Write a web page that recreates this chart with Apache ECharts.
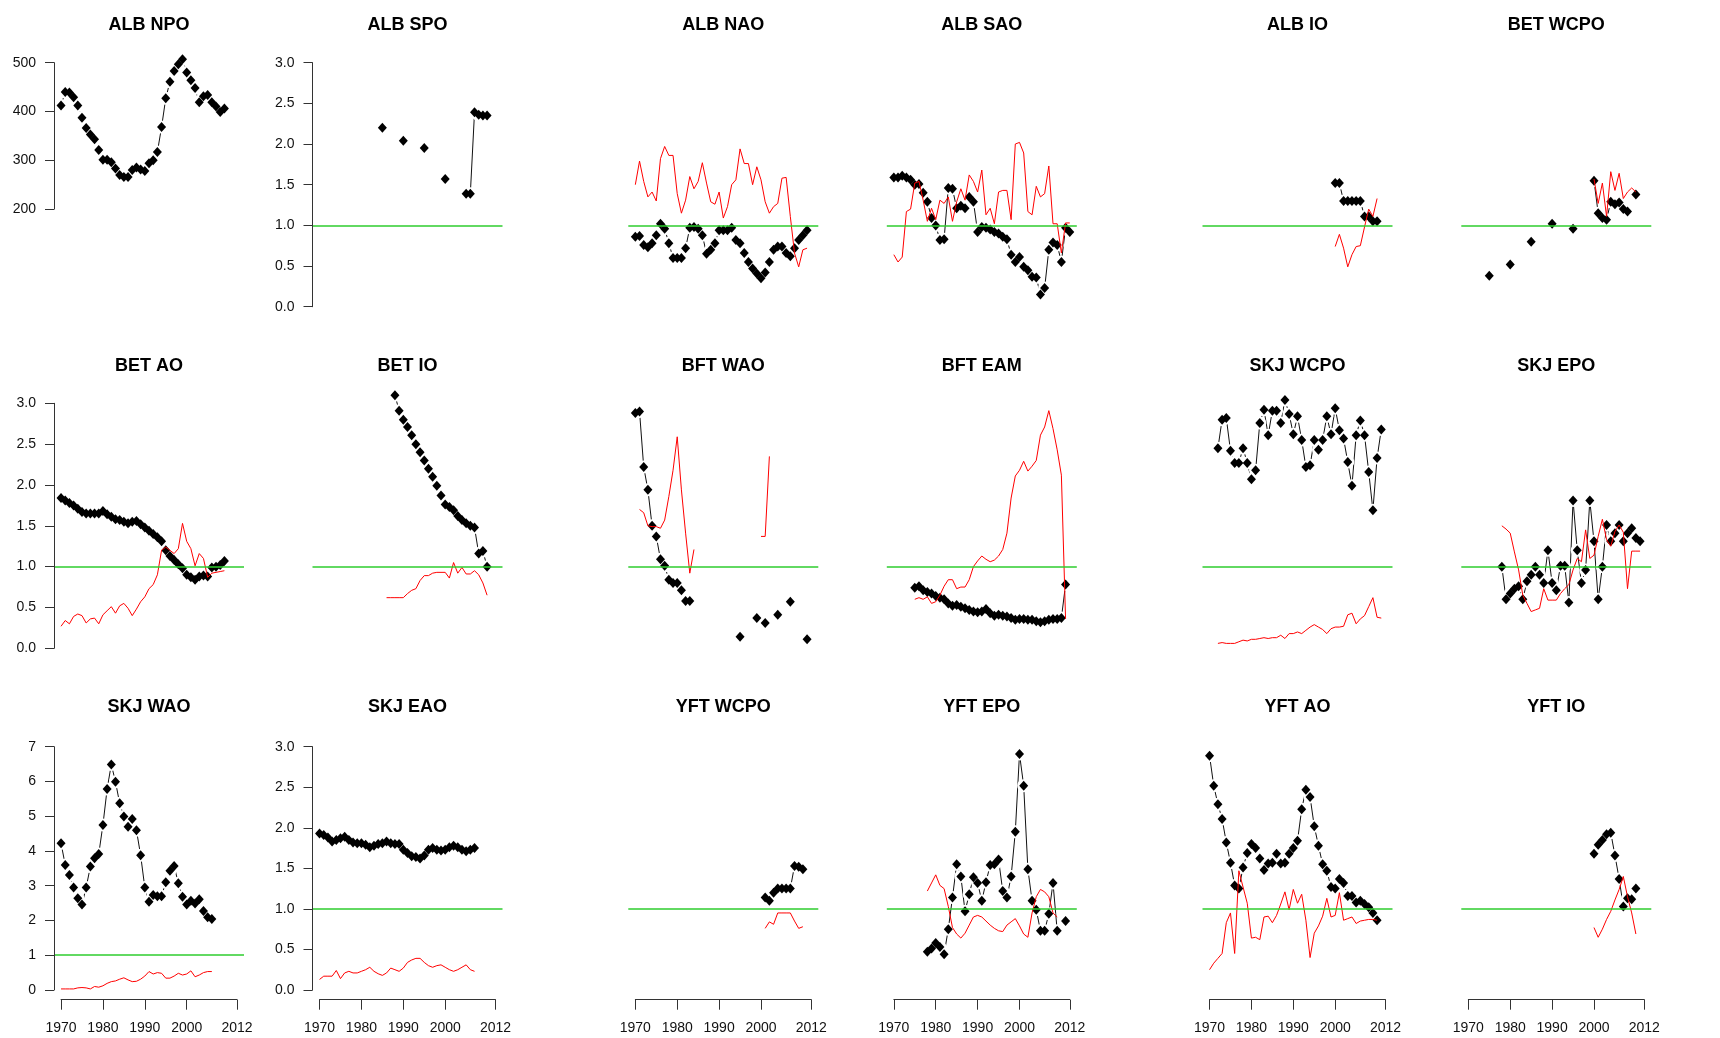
<!DOCTYPE html>
<html>
<head>
<meta charset="utf-8">
<script src="https://cdn.jsdelivr.net/npm/echarts@6/dist/echarts.min.js"></script>
<style>
html, body { margin: 0; padding: 0; background: #fff; }
#chart-container { width: 1720px; height: 1038px; }
</style>
</head>
<body>
<div id="chart-container"></div>
<script>
// panel titles, left to right, top to bottom
var panelTitles = ['ALB NPO', 'ALB SPO', 'ALB NAO', 'ALB SAO', 'ALB IO', 'BET WCPO',
                   'BET AO', 'BET IO', 'BFT WAO', 'BFT EAM', 'SKJ WCPO', 'SKJ EPO',
                   'SKJ WAO', 'SKJ EAO', 'YFT WCPO', 'YFT EPO', 'YFT AO', 'YFT IO'];

// x axis tick labels (bottom row)
var yearTicks = [1970, 1980, 1990, 2000, 2012];

// first year of each black (diamond) and red series
var blackFrom = [1970, 1985, 1970, 1970, 2000, 1975, 1970, 1988, 1970, 1975, 1972, 1978, 1970, 1970, 2001, 1978, 1970, 2000];
var redFrom   = [null, null, 1970, 1970, 2000, 2000, 1970, 1986, 1971, 1975, 1972, 1978, 1970, 1970, 2001, 1978, 1970, 2000];

// black series (one value per year, null = missing)
var albNpoB = [412, 440, 439, 429, 412, 387, 366, 353, 343, 321, 301, 301, 296, 283, 270, 266, 266, 280, 285, 281,
               278, 294, 300, 317, 368, 427, 461, 483, 497, 507, 480, 464, 448, 419, 431, 434, 419, 410, 399, 406];
var albSpoB = [2.20, null, null, null, null, 2.04, null, null, null, null, 1.95, null, null, null, null,
               1.57, null, null, null, null, 1.39, 1.39, 2.39, 2.36, 2.35, 2.35];
var albNaoB = [0.86, 0.87, 0.76, 0.73, 0.78, 0.88, 1.02, 0.96, 0.78, 0.60, 0.60, 0.60, 0.72, 0.97, 0.98, 0.96, 0.88, 0.65, 0.70, 0.78,
               0.94, 0.94, 0.94, 0.97, 0.82, 0.78, 0.66, 0.55, 0.47, 0.41, 0.35, 0.42, 0.55, 0.70, 0.74, 0.74, 0.66, 0.62, 0.72, 0.82,
               0.88, 0.94];
var albSaoB = [1.59, 1.59, 1.61, 1.59, 1.56, 1.50, 1.51, 1.40, 1.29, 1.09, 1.00, 0.82, 0.83, 1.46, 1.45, 1.21, 1.24, 1.21, 1.35, 1.29,
               0.92, 0.98, 0.97, 0.95, 0.92, 0.90, 0.86, 0.83, 0.64, 0.55, 0.61, 0.49, 0.45, 0.37, 0.36, 0.15, 0.23, 0.70, 0.79, 0.76,
               0.55, 0.97, 0.92];
var albIoB = [1.52, 1.52, 1.30, 1.30, 1.30, 1.30, 1.30, 1.11, 1.11, 1.05, 1.05];
var betWcpoB = [0.38, null, null, null, null, 0.52, null, null, null, null, 0.80, null, null, null, null,
                1.02, null, null, null, null, 0.96, null, null, null, null,
                1.55, 1.15, 1.09, 1.07, 1.29, 1.26, 1.28, 1.20, 1.17, null, 1.38];
var betAoB = [1.84, 1.81, 1.78, 1.75, 1.71, 1.67, 1.65, 1.65, 1.65, 1.65, 1.68, 1.64, 1.61, 1.58, 1.57, 1.55, 1.53, 1.55, 1.56, 1.52,
              1.48, 1.44, 1.40, 1.36, 1.31, 1.20, 1.13, 1.08, 1.03, 0.98, 0.90, 0.87, 0.84, 0.88, 0.89, 0.88, 0.99, 1.00, 1.02, 1.07];
var betIoB = [3.10, 2.91, 2.80, 2.71, 2.61, 2.50, 2.40, 2.30, 2.20, 2.10, 1.99, 1.87, 1.76, 1.73, 1.69, 1.62, 1.57, 1.53, 1.50, 1.48,
              1.16, 1.19, 1.00];
var bftWaoB = [2.88, 2.90, 2.22, 1.94, 1.50, 1.37, 1.09, 1.01, 0.84, 0.80, 0.80, 0.71, 0.58, 0.58,
               null, null, null, null, null, null, null, null, null, null, null,
               0.14, null, null, null, 0.37, null, 0.31, null, null, 0.41, null, null, 0.57, null, null, null, 0.11];
var bftEamB = [0.74, 0.76, 0.71, 0.69, 0.67, 0.64, 0.62, 0.60, 0.55, 0.52, 0.53, 0.51, 0.49, 0.47, 0.45, 0.44, 0.45, 0.48, 0.43, 0.40,
               0.41, 0.40, 0.39, 0.37, 0.35, 0.36, 0.36, 0.35, 0.35, 0.33, 0.32, 0.33, 0.35, 0.36, 0.36, 0.37, 0.78];
var skjWcpoB = [2.45, 2.80, 2.82, 2.42, 2.27, 2.27, 2.45, 2.27, 2.07, 2.18, 2.76, 2.92, 2.61, 2.91, 2.91, 2.76, 3.04, 2.87, 2.62, 2.84,
                2.55, 2.22, 2.24, 2.55, 2.43, 2.55, 2.84, 2.62, 2.94, 2.67, 2.57, 2.28, 1.99, 2.61, 2.79, 2.61, 2.16, 1.69, 2.33, 2.68];
var skjEpoB = [1.00, 0.60, 0.67, 0.73, 0.76, 0.60, 0.82, 0.90, 1.00, 0.90, 0.80, 1.20, 0.80, 0.71, 1.01, 1.01, 0.56, 1.81, 1.20, 0.80,
               0.96, 1.81, 1.31, 0.60, 1.00, 1.51, 1.31, 1.41, 1.51, 1.31, 1.41, 1.47, 1.35, 1.31];
var skjWaoB = [4.22, 3.60, 3.31, 2.95, 2.64, 2.46, 2.95, 3.55, 3.79, 3.91, 4.75, 5.78, 6.49, 5.99, 5.37, 4.99, 4.70, 4.92, 4.60, 3.88,
               2.95, 2.54, 2.73, 2.70, 2.70, 3.10, 3.43, 3.57, 3.07, 2.68, 2.46, 2.57, 2.49, 2.61, 2.27, 2.09, 2.04];
var skjEaoB = [1.93, 1.91, 1.88, 1.83, 1.85, 1.87, 1.89, 1.85, 1.82, 1.81, 1.81, 1.79, 1.76, 1.78, 1.80, 1.81, 1.83, 1.81, 1.80, 1.80,
               1.73, 1.69, 1.65, 1.64, 1.62, 1.66, 1.73, 1.75, 1.73, 1.72, 1.73, 1.76, 1.78, 1.76, 1.73, 1.71, 1.73, 1.75];
var yftWcpoB = [1.14, 1.10, 1.20, 1.25, 1.25, 1.25, 1.25, 1.53, 1.52, 1.49];
var yftEpoB = [0.47, 0.51, 0.58, 0.53, 0.44, 0.75, 1.14, 1.55, 1.40, 0.97, 1.18, 1.39, 1.32, 1.10, 1.33, 1.54, 1.55, 1.61, 1.22, 1.14,
               1.40, 1.95, 2.91, 2.52, 1.49, 1.10, 0.99, 0.73, 0.73, 0.94, 1.32, 0.73, null, 0.85];
var yftAoB = [2.89, 2.52, 2.29, 2.11, 1.82, 1.57, 1.29, 1.25, 1.51, 1.69, 1.80, 1.75, 1.62, 1.48, 1.56, 1.57, 1.68, 1.56, 1.57, 1.68,
              1.75, 1.84, 2.23, 2.47, 2.38, 2.02, 1.78, 1.55, 1.47, 1.27, 1.25, 1.37, 1.32, 1.16, 1.16, 1.08, 1.10, 1.06, 1.02, 0.95,
              0.86];
var yftIoB = [1.68, 1.79, 1.85, 1.92, 1.94, 1.66, 1.37, 1.03, 1.13, 1.12, 1.25];

// red series
var albNaoR = [1.50, 1.79, 1.54, 1.35, 1.41, 1.30, 1.82, 1.97, 1.86, 1.86, 1.39, 1.15, 1.31, 1.60, 1.45, 1.54, 1.77, 1.52, 1.29, 1.26,
               1.41, 1.09, 1.23, 1.50, 1.56, 1.94, 1.76, 1.76, 1.50, 1.72, 1.56, 1.29, 1.15, 1.23, 1.27, 1.58, 1.59, 1.11, 0.66, 0.49,
               0.70, 0.72];
var albSaoR = [0.64, 0.55, 0.61, 1.17, 1.20, 1.52, 1.54, 1.31, 1.05, 1.21, 1.07, 1.31, 1.27, 1.35, 1.05, 1.29, 1.45, 1.31, 1.62, 1.54,
               1.41, 1.68, 1.13, 1.21, 1.02, 1.41, 1.43, 1.43, 1.07, 2.00, 2.02, 1.89, 1.17, 1.13, 1.48, 1.35, 1.39, 1.73, 1.02, 1.02,
               0.66, 1.03, 1.03];
var albIoR = [0.74, 0.89, 0.72, 0.49, 0.64, 0.74, 0.75, 0.98, 1.20, 1.11, 1.33];
var betWcpoR = [1.57, 1.27, 1.52, 1.11, 1.66, 1.43, 1.64, 1.33, 1.41, 1.46, 1.41];
var betAoR = [0.27, 0.34, 0.30, 0.39, 0.42, 0.40, 0.31, 0.36, 0.37, 0.30, 0.41, 0.46, 0.51, 0.43, 0.52, 0.55, 0.49, 0.40, 0.48, 0.57,
              0.63, 0.73, 0.78, 0.90, 1.20, 1.24, 1.20, 1.16, 1.22, 1.53, 1.31, 1.22, 1.01, 1.16, 1.10, 0.87, 0.92, 0.93, 0.94, 0.95];
var betIoR = [0.62, 0.62, 0.62, 0.62, 0.62, 0.67, 0.71, 0.73, 0.83, 0.89, 0.89, 0.92, 0.93, 0.93, 0.93, 0.86, 1.05, 0.92, 0.99, 0.91,
              0.91, 0.95, 0.90, 0.80, 0.65];
var bftWaoR = [1.70, 1.66, 1.50, 1.49, 1.49, 1.47, 1.57, 1.86, 2.18, 2.59, 1.94, 1.41, 0.92, 1.21,
               null, null, null, null, null, null, null, null, null, null, null, null, null, null, null,
               1.37, 1.37, 2.35];
var bftEamR = [0.60, 0.62, 0.60, 0.63, 0.55, 0.57, 0.65, 0.76, 0.84, 0.84, 0.73, 0.75, 0.75, 0.84, 1.00, 1.07, 1.13, 1.09, 1.06, 1.08,
               1.13, 1.21, 1.41, 1.84, 2.11, 2.18, 2.29, 2.17, 2.23, 2.30, 2.61, 2.71, 2.91, 2.69, 2.43, 2.12, 0.36];
var skjWcpoR = [0.06, 0.07, 0.06, 0.06, 0.06, 0.08, 0.10, 0.09, 0.11, 0.11, 0.12, 0.13, 0.12, 0.13, 0.13, 0.16, 0.12, 0.18, 0.18, 0.20,
                0.18, 0.22, 0.26, 0.29, 0.26, 0.23, 0.18, 0.24, 0.26, 0.26, 0.27, 0.41, 0.43, 0.30, 0.36, 0.40, 0.51, 0.62, 0.38, 0.37];
var skjEpoR = [1.50, 1.46, 1.41, 1.18, 0.96, 0.65, 0.55, 0.45, 0.47, 0.49, 0.73, 0.59, 0.59, 0.59, 0.67, 0.73, 0.78, 0.96, 1.10, 1.06,
               1.45, 1.10, 1.14, 1.37, 1.58, 1.33, 1.25, 1.43, 1.51, 1.42, 0.73, 1.19, 1.19, 1.19];
var skjWaoR = [0.03, 0.03, 0.03, 0.03, 0.06, 0.07, 0.06, 0.03, 0.10, 0.08, 0.12, 0.19, 0.24, 0.26, 0.31, 0.35, 0.29, 0.24, 0.25, 0.31,
               0.40, 0.53, 0.46, 0.50, 0.48, 0.34, 0.34, 0.40, 0.48, 0.43, 0.46, 0.55, 0.38, 0.43, 0.50, 0.53, 0.53];
var skjEaoR = [0.13, 0.17, 0.17, 0.17, 0.24, 0.14, 0.21, 0.23, 0.21, 0.21, 0.23, 0.25, 0.28, 0.23, 0.20, 0.18, 0.21, 0.27, 0.25, 0.23,
               0.27, 0.34, 0.37, 0.39, 0.39, 0.34, 0.30, 0.28, 0.30, 0.31, 0.28, 0.25, 0.23, 0.25, 0.28, 0.31, 0.25, 0.23];
var yftWcpoR = [0.76, 0.84, 0.81, 0.95, 0.95, 0.95, 0.95, 0.85, 0.76, 0.78];
var yftEpoR = [1.22, 1.32, 1.42, 1.29, 1.25, 1.03, 0.77, 0.69, 0.64, 0.70, 0.80, 0.90, 0.92, 0.90, 0.85, 0.80, 0.76, 0.73, 0.72, 0.80,
               0.84, 0.88, 0.79, 0.69, 0.65, 0.95, 1.15, 1.24, 1.21, 1.15, 0.95, 0.90];
var yftAoR = [0.25, 0.33, 0.39, 0.45, 0.83, 0.95, 0.45, 1.47, 1.27, 1.07, 0.64, 0.65, 0.62, 0.90, 0.91, 0.83, 0.92, 1.06, 1.21, 0.99,
              1.24, 1.07, 1.18, 0.86, 0.40, 0.70, 0.79, 0.91, 1.13, 0.90, 0.92, 1.20, 0.86, 0.88, 0.90, 0.82, 0.85, 0.86, 0.87, 0.87,
              0.86];
var yftIoR = [0.77, 0.65, 0.75, 0.87, 0.97, 1.11, 1.24, 1.40, 1.15, 0.95, 0.69];

var blackSeries = [albNpoB, albSpoB, albNaoB, albSaoB, albIoB, betWcpoB, betAoB, betIoB, bftWaoB, bftEamB,
                   skjWcpoB, skjEpoB, skjWaoB, skjEaoB, yftWcpoB, yftEpoB, yftAoB, yftIoB];
var redSeries = [null, null, albNaoR, albSaoR, albIoR, betWcpoR, betAoR, betIoR, bftWaoR, bftEamR,
                 skjWcpoR, skjEpoR, skjWaoR, skjEaoR, yftWcpoR, yftEpoR, yftAoR, yftIoR];

// y range of each panel (ylim) and which panels draw a y axis: [min, max, step]
var yLimits = { 0: [0, 500], 12: [0, 7] };
var yAxisTicks = { 0: [200, 500, 100], 1: [0, 3, 0.5], 6: [0, 3, 0.5], 12: [0, 7, 1], 13: [0, 3, 0.5] };

// layout (pixels)
var FONT = 'Liberation Sans, Arial, sans-serif';
var colLeft = [54, 312.5, 628.3, 886.8, 1202.5, 1461.3];
var rowTop = [52.9, 393.5, 737];
var rowHeight = [263.6, 264.6, 262.7];
var titleY = [25, 366, 707];
var plotW = 190;
var xLo = 1970 - 0.04 * 42, xHi = 2012 + 0.04 * 42;

var container = document.getElementById('chart-container');
var myChart = echarts.init(container, null, { renderer: 'canvas' });

function byYear(from, arr) {
    return arr.map(function (v, i) { return [from + i, v]; });
}

var yearCats = [];
for (var y = 1970; y <= 2012; y++) yearCats.push(String(y));
var showYear = function (idx, val) { return yearTicks.indexOf(+val) >= 0; };

var grids = [], xAxes = [], yAxes = [], series = [], titles = [];

panelTitles.forEach(function (name, i) {
    var row = Math.floor(i / 6), col = i % 6;
    var L = colLeft[col], T = rowTop[row], H = rowHeight[row];
    var lim = yLimits[i] || [0, 3];
    var span = lim[1] - lim[0];
    var lo = lim[0] - 0.04 * span, hi = lim[1] + 0.04 * span;
    var pix = function (v) { return T + (hi - v) / (hi - lo) * H; };

    // data grid
    var g = grids.length;
    grids.push({ left: L, top: T, width: plotW, height: H });
    xAxes.push({ type: 'value', gridIndex: g, min: xLo, max: xHi, show: false });
    yAxes.push({ type: 'value', gridIndex: g, min: lo, max: hi, show: false });

    titles.push({
        text: name, left: L + plotW / 2, top: titleY[row],
        textAlign: 'center', textVerticalAlign: 'middle', padding: 0,
        textStyle: { fontSize: 18, fontWeight: 'bold', color: '#000', fontFamily: FONT }
    });

    var bData = byYear(blackFrom[i], blackSeries[i]);
    // type="b": line with gaps round the points
    series.push({
        type: 'line', xAxisIndex: g, yAxisIndex: g, data: bData,
        symbol: 'circle', symbolSize: 13, showSymbol: true, showAllSymbol: true,
        itemStyle: { color: '#fff', borderWidth: 0, opacity: 1 },
        lineStyle: { color: '#111', width: 1 },
        connectNulls: false, clip: false, silent: true, z: 1
    });
    var pts = bData.filter(function (d) { return d[1] !== null; });
    var black = {
        type: 'scatter', xAxisIndex: g, yAxisIndex: g, data: pts,
        symbol: 'diamond', symbolSize: [9, 10],
        itemStyle: { color: '#000', opacity: 1 }, clip: false, silent: true, z: 2
    };
    if (i !== 0) {
        black.markLine = {
            silent: true, symbol: ['none', 'none'], label: { show: false },
            lineStyle: { color: '#2ecc2e', width: 1.5, type: 'solid', opacity: 1 },
            emphasis: { disabled: true },
            data: [{ yAxis: 1 }]
        };
    }
    series.push(black);

    if (redSeries[i]) {
        series.push({
            type: 'line', xAxisIndex: g, yAxisIndex: g, data: byYear(redFrom[i], redSeries[i]),
            symbol: 'none', showSymbol: false,
            lineStyle: { color: '#ff0000', width: 1 },
            connectNulls: false, clip: false, silent: true, z: 3
        });
    }

    // y axis (only some panels)
    var yt = yAxisTicks[i];
    if (yt) {
        var ga = grids.length;
        var top = pix(yt[1]), bottom = pix(yt[0]);
        grids.push({ left: L, top: top, width: 1, height: bottom - top });
        xAxes.push({ type: 'value', gridIndex: ga, min: 0, max: 1, show: false });
        yAxes.push({
            type: 'value', gridIndex: ga, min: yt[0], max: yt[1], interval: yt[2], z: 10,
            axisLine: { show: true, lineStyle: { color: '#333', width: 1 } },
            axisTick: { show: true, length: 9, lineStyle: { color: '#333', width: 1 } },
            splitLine: { show: false },
            axisLabel: {
                margin: 18, fontSize: 14, color: '#111', fontFamily: FONT,
                formatter: function (v) { return yt[2] < 1 ? v.toFixed(1) : String(v); }
            }
        });
    }

    // x axis (bottom row)
    if (row === 2) {
        var gx = grids.length;
        var x0 = L + (1970 - xLo) / (xHi - xLo) * plotW;
        var x1 = L + (2012 - xLo) / (xHi - xLo) * plotW;
        grids.push({ left: x0, top: T + H - 10, width: x1 - x0, height: 10 });
        xAxes.push({
            type: 'category', gridIndex: gx, data: yearCats, boundaryGap: false, position: 'bottom', z: 10,
            axisLine: { show: true, lineStyle: { color: '#333', width: 1 } },
            axisTick: { show: true, length: 10, interval: showYear, lineStyle: { color: '#333', width: 1 } },
            splitLine: { show: false },
            axisLabel: { interval: showYear, margin: 21, fontSize: 14, color: '#111', fontFamily: FONT }
        });
        yAxes.push({ type: 'value', gridIndex: gx, show: false });
    }
});

myChart.setOption({
    backgroundColor: '#fff',
    animation: false,
    title: titles,
    grid: grids,
    xAxis: xAxes,
    yAxis: yAxes,
    series: series
});
</script>
</body>
</html>
